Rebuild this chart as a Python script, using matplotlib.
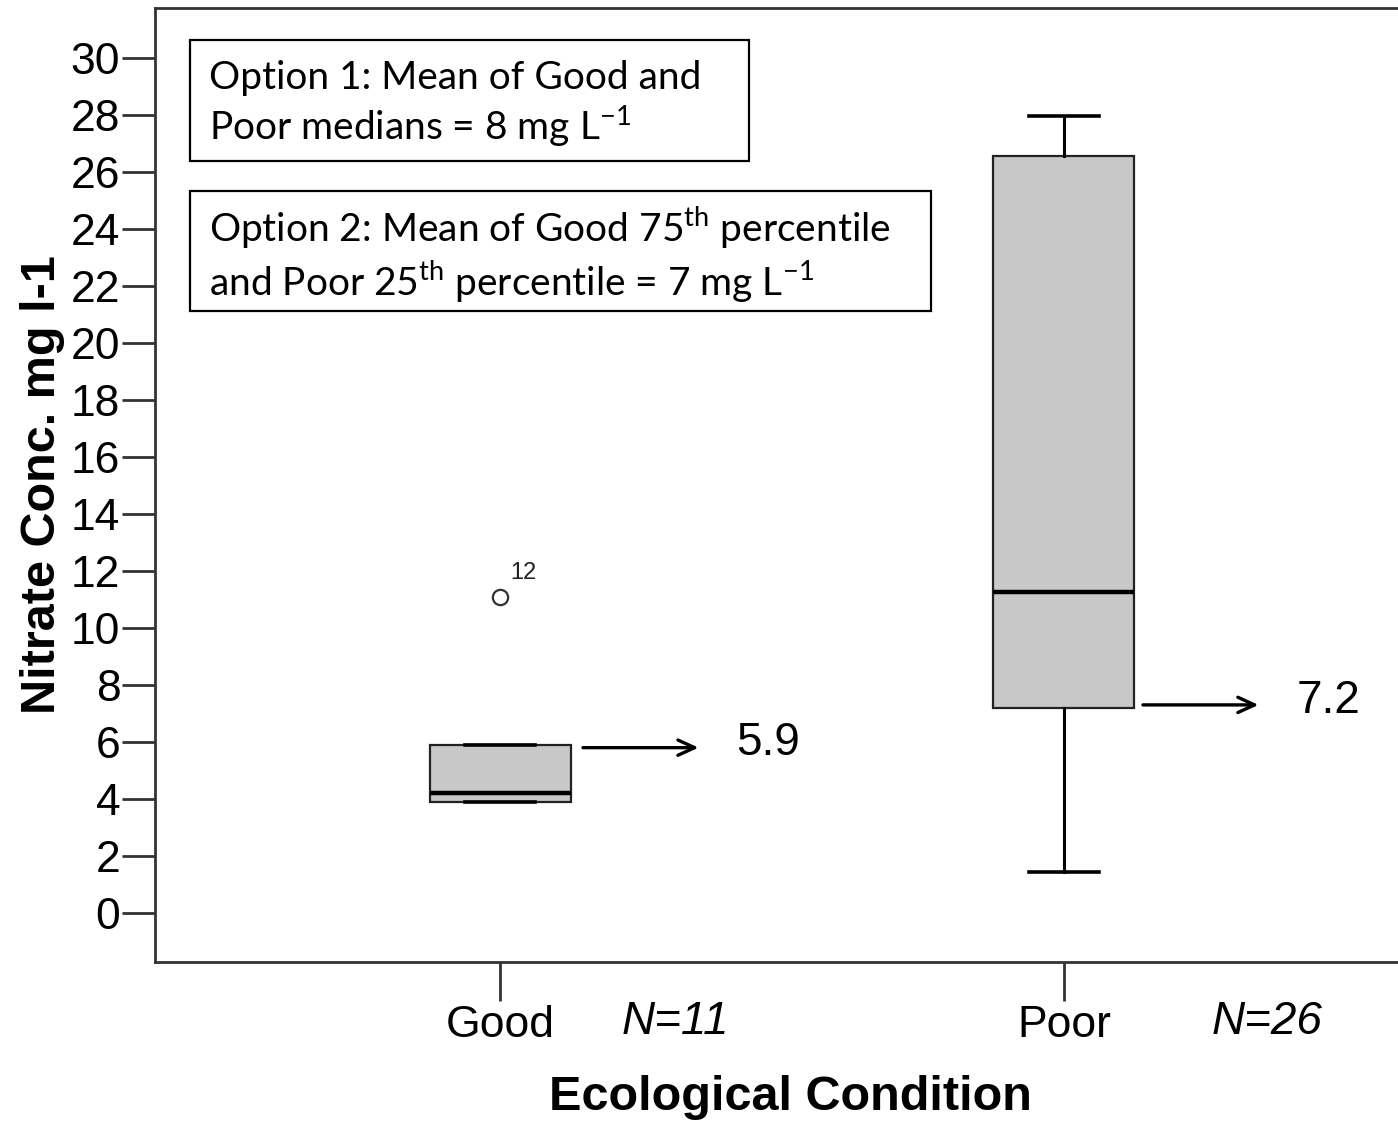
import matplotlib
matplotlib.use("Agg")
import matplotlib.pyplot as plt
from matplotlib.patches import Rectangle

plt.rcParams['font.family'] = ['Liberation Sans', 'DejaVu Sans']
plt.rcParams['mathtext.fontset'] = 'custom'
plt.rcParams['mathtext.rm'] = 'Lato'

# Data
categories = ['Good', 'Poor']
n_labels = ['N=11', 'N=26']
medians = [4.2, 11.25]
q1s = [3.9, 7.2]
q3s = [5.9, 26.55]
whis_lo = [3.9, 1.45]
whis_hi = [5.9, 27.95]
fliers = [[11.1], []]
flier_ids = [['12'], []]
arrow_vals = [5.8, 7.3]
arrow_text = ['5.9', '7.2']
yticks = list(range(0, 31, 2))

W, H = 1398, 1123
fig = plt.figure(figsize=(W / 100, H / 100), dpi=100)
ax = fig.add_axes([155 / W, 1 - 962 / H, 1271 / W, 954 / H])

stats = []
for i, c in enumerate(categories):
    stats.append(dict(label=c, med=medians[i], q1=q1s[i], q3=q3s[i],
                      whislo=whis_lo[i], whishi=whis_hi[i], fliers=fliers[i]))

pos = [1, 2]
ax.bxp(stats, positions=pos, widths=0.25, patch_artist=True, showfliers=True,
       boxprops=dict(facecolor='#c8c8c8', edgecolor='#222222', linewidth=1.6),
       medianprops=dict(color='black', linewidth=3.2),
       whiskerprops=dict(color='black', linewidth=2.2),
       capprops=dict(color='black', linewidth=2.6),
       flierprops=dict(marker='o', markersize=11, markerfacecolor='white',
                       markeredgecolor='#333333', markeredgewidth=1.6))

# outlier ids
for i, ids in enumerate(flier_ids):
    for v, lab in zip(fliers[i], ids):
        ax.text(pos[i] + 0.018, v + 0.45, lab, fontsize=17, color='#222222',
                ha='left', va='bottom')

ax.set_xlim(0.388, 2.642)
ax.set_ylim(-1.72, 31.75)
ax.set_yticks(yticks)
ax.set_yticklabels([str(t) for t in yticks], fontsize=32)
ax.set_xticks(pos)
ax.set_xticklabels(categories, fontsize=32)
ax.tick_params(axis='y', length=24, width=2, pad=1, color='#333333')
ax.tick_params(axis='x', length=28, width=2, pad=3, color='#333333')

for s in ['left', 'bottom', 'top']:
    ax.spines[s].set_linewidth(2)
    ax.spines[s].set_color('#333333')
ax.spines['right'].set_visible(False)

ax.set_ylabel('Nitrate Conc. mg l-1', fontsize=35, fontweight='bold', labelpad=4)
ax.set_xlabel('Ecological Condition', fontsize=35, fontweight='bold', labelpad=21)

# N labels
n_offsets = [0.31, 0.36]
for i, n in enumerate(n_labels):
    ax.annotate(n, xy=(pos[i] + n_offsets[i], 0), xycoords=('data', 'axes fraction'),
                xytext=(0, -43), textcoords='offset points', ha='center', va='center',
                fontsize=33, fontstyle='italic')

# arrows with values
for i in range(2):
    x0 = pos[i] + 0.147 - (0.007 if i == 1 else 0)
    ax.annotate('', xy=(x0 + 0.205, arrow_vals[i]), xytext=(x0, arrow_vals[i]),
                arrowprops=dict(arrowstyle='->,head_length=1.2,head_width=0.55',
                                lw=2.4, color='black', shrinkA=0, shrinkB=0))
    ax.text(x0 + 0.272, arrow_vals[i] + 0.15, arrow_text[i], fontsize=33,
            ha='left', va='center')

# option boxes
def fig_rect(x0, y0, x1, y1):
    r = Rectangle((x0 / W, 1 - y1 / H), (x1 - x0) / W, (y1 - y0) / H,
                  transform=fig.transFigure, facecolor='white', edgecolor='black',
                  linewidth=1.6, zorder=5)
    fig.patches.append(r)

fig_rect(190, 40, 749, 161)
fig_rect(190, 191, 931, 311)
fig.text(209 / W, 1 - 105 / H,
         'Option 1: Mean of Good and\nPoor medians = 8 mg L$^{\\mathregular{-1}}$',
         family='Lato', fontsize=28, ha='left', va='center', linespacing=1.2, zorder=6)
fig.text(209 / W, 1 - 254 / H,
         'Option 2: Mean of Good 75$^{\\mathregular{th}}$ percentile\n'
         'and Poor 25$^{\\mathregular{th}}$ percentile = 7 mg L$^{\\mathregular{-1}}$',
         family='Lato', fontsize=28, ha='left', va='center', linespacing=1.2, zorder=6)

fig.savefig('out.png', dpi=100)
